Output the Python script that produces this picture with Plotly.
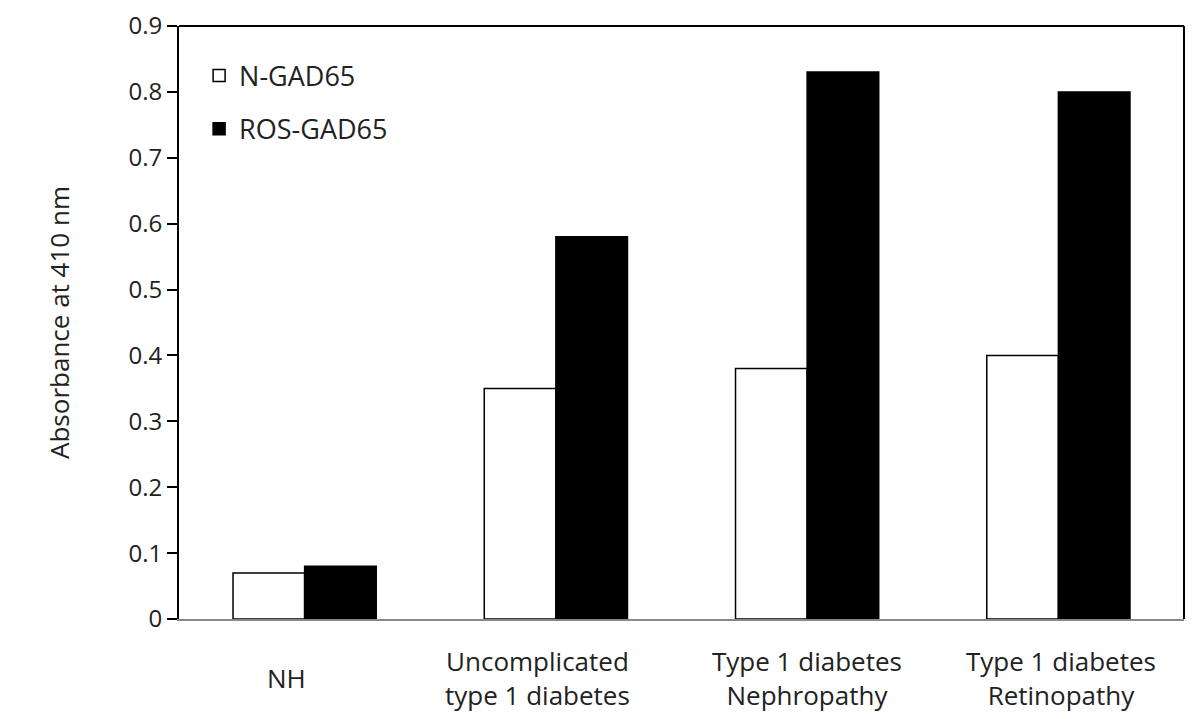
import plotly.graph_objects as go

categories = ["NH", "Uncomplicated<br>type 1 diabetes", "Type 1 diabetes<br>Nephropathy", "Type 1 diabetes<br>Retinopathy"]
n_gad65 = [0.07, 0.35, 0.38, 0.40]
ros_gad65 = [0.08, 0.58, 0.83, 0.80]
y_ticks = [0, 0.1, 0.2, 0.3, 0.4, 0.5, 0.6, 0.7, 0.8, 0.9]
y_tick_labels = ["0", "0.1", "0.2", "0.3", "0.4", "0.5", "0.6", "0.7", "0.8", "0.9"]

FONT = "Open Sans, Lato, sans-serif"
label_xshift = [-18, -18, 0, 3]

fig = go.Figure()
fig.add_trace(go.Bar(x=categories, y=n_gad65, name="N-GAD65", legendgroup="a",
                     marker=dict(color="white", line=dict(color="black", width=1.5))))
fig.add_trace(go.Bar(x=categories, y=ros_gad65, name="ROS-GAD65", legendgroup="b",
                     marker=dict(color="black", line=dict(color="black", width=1.5))))

fig.update_layout(
    width=1200, height=719,
    margin=dict(l=171, r=24, t=18, b=108, autoexpand=False),
    plot_bgcolor="white", paper_bgcolor="white",
    barmode="group", bargap=0.43, bargroupgap=0,
    font=dict(family=FONT, size=25, color="#222"),
    legend=dict(x=0.02, y=0.957, xanchor="left", yanchor="top",
                bgcolor="rgba(0,0,0,0)", font=dict(size=27), tracegroupgap=15,
                itemwidth=30),
    showlegend=True,
)
fig.update_xaxes(showline=True, linecolor="#888", linewidth=2, ticks="",
                 showticklabels=False, showgrid=False, automargin=False)
fig.update_yaxes(range=[0, 0.9], tickvals=y_ticks, ticktext=y_tick_labels,
                 showline=True, linecolor="black", linewidth=2,
                 ticks="outside", ticklen=10, tickcolor="black", tickwidth=1.5,
                 showgrid=False, zeroline=False, tickfont=dict(size=24), automargin=False,
                 ticklabeloverflow="allow",
                 title=dict(text="Absorbance at 410 nm", font=dict(size=26), standoff=51))
for cat, dx in zip(categories, label_xshift):
    fig.add_annotation(x=cat, xref="x", y=0, yref="paper", text=cat, showarrow=False,
                       yanchor="middle", xanchor="center", yshift=-59, xshift=dx,
                       font=dict(size=26, color="#222"))
fig.add_shape(type="line", xref="paper", yref="paper", x0=0, x1=1, y0=1, y1=1,
              line=dict(color="black", width=2))
fig.add_shape(type="line", xref="paper", yref="paper", x0=1, x1=1, y0=0, y1=1,
              line=dict(color="black", width=2))

fig.write_html("out.html")
